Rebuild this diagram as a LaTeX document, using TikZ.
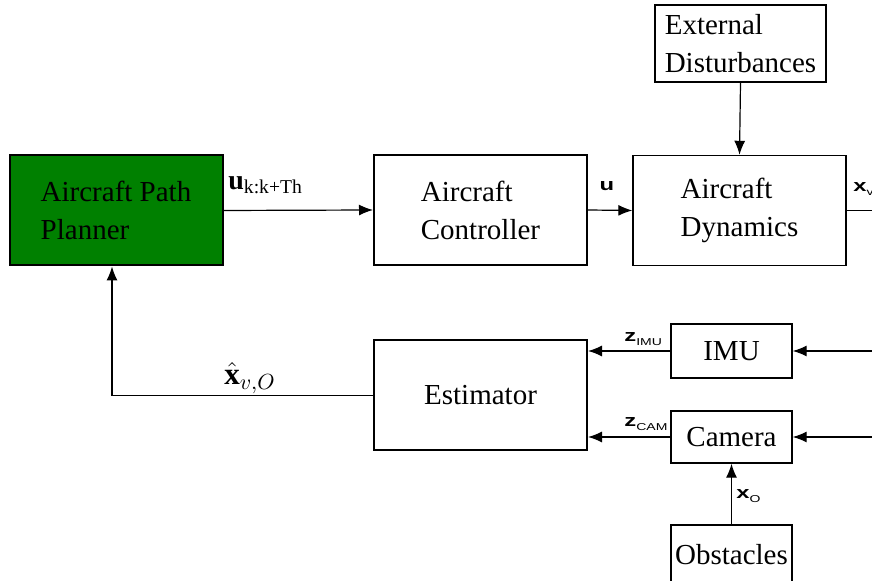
\documentclass[tikz,border=0pt]{standalone}
\usepackage{amsmath,amssymb}
\usepackage{fontspec}
\setmainfont{Liberation Serif}
\newfontfamily\labfont[FakeStretch=1.4]{Liberation Sans}
\usepackage{tikz}
\usetikzlibrary{arrows.meta,positioning,calc}

% bold sans signal name with a small upright index
\newcommand{\siglab}[2]{{\labfont\fontsize{8.5}{9}\selectfont\textbf{#1}\raisebox{-0.4ex}{\fontsize{5}{5}\selectfont #2}}}

\begin{document}
\begin{tikzpicture}[x=0.5pt, y=-0.5pt,
    >={Latex[length=7pt,width=5.5pt]},
    box/.style={draw, minimum width=60.5pt, minimum height=27pt, align=left,
                inner sep=0pt, line width=0.7pt, font=\fontsize{14.5}{19}\selectfont},
    bigbox/.style={box, minimum width=106.5pt, minimum height=55pt, line width=1pt},
    sig/.style={->, line width=0.6pt},
    lab/.style={inner sep=0pt}
]
    \clip (0,0) rectangle (872,581);

    % top row
    \node[bigbox, fill=green!50!black] (planner) at (116,210.5) {Aircraft Path\\Planner};
    \node[bigbox] (ctrl) at (480.5,210) {Aircraft\\Controller};
    \node[bigbox, line width=0.7pt] (dyn) at (739.5,210.5) {Aircraft\\Dynamics};
    \node[box, minimum width=85.5pt, minimum height=38.5pt] (dist) at (740.5,43.5) {External\\Disturbances};

    % sensors and estimator
    \node[bigbox] (est) at (480.5,395.5) {Estimator};
    \node[box] (imu) at (731.5,351) {IMU};
    \node[box, minimum height=26pt] (cam) at (731.5,437) {Camera};
    \node[box, minimum height=30pt] (obs) at (731.5,555) {Obstacles};

    % free ends at the right border
    \coordinate (xvout) at (900,210.5);
    \coordinate (imuin) at (900,351);
    \coordinate (camin) at (900,437);

    % Arrows
    \draw[sig] (planner.east) -- (ctrl.west);
    \draw[sig] (ctrl.west -| ctrl.east) -- (dyn.west);
    \draw[line width=0.6pt] (dyn.east) -- (xvout);
    \draw[sig] (dist.south) -- (dyn.north);
    \draw[sig] (imuin) -- (imu.east);
    \draw[sig] (camin) -- (cam.east);
    \draw[sig] (imu.west) -- (imu.west -| est.east);
    \draw[sig] (cam.west) -- (cam.west -| est.east);
    \draw[sig] (obs.north) -- (cam.south);
    \draw[sig] (est.west) -| ($(planner.south)+(-4,0)$);

    % Labels
    \node[lab, anchor=west] (uplan) at (228,185) {\fontsize{14}{19}\selectfont$\mathbf{u}_{\text{k:k+Th}}$};
    \node[lab] (ulab) at (607,188) {\siglab{u}{}};
    \node[lab, anchor=west] (xvlab) at (853,189) {\siglab{x}{v}};
    \node[lab, anchor=west] (zimu) at (624,339) {\siglab{z}{IMU}};
    \node[lab, anchor=west] (zcam) at (624,424) {\siglab{z}{CAM}};
    \node[lab, anchor=west] (xolab) at (736,496) {\siglab{x}{O}};
    \node[lab] (xhat) at (250,378) {\fontsize{15.5}{17}\selectfont$\hat{\mathbf{x}}_{v,O}$};
\end{tikzpicture}
\end{document}
